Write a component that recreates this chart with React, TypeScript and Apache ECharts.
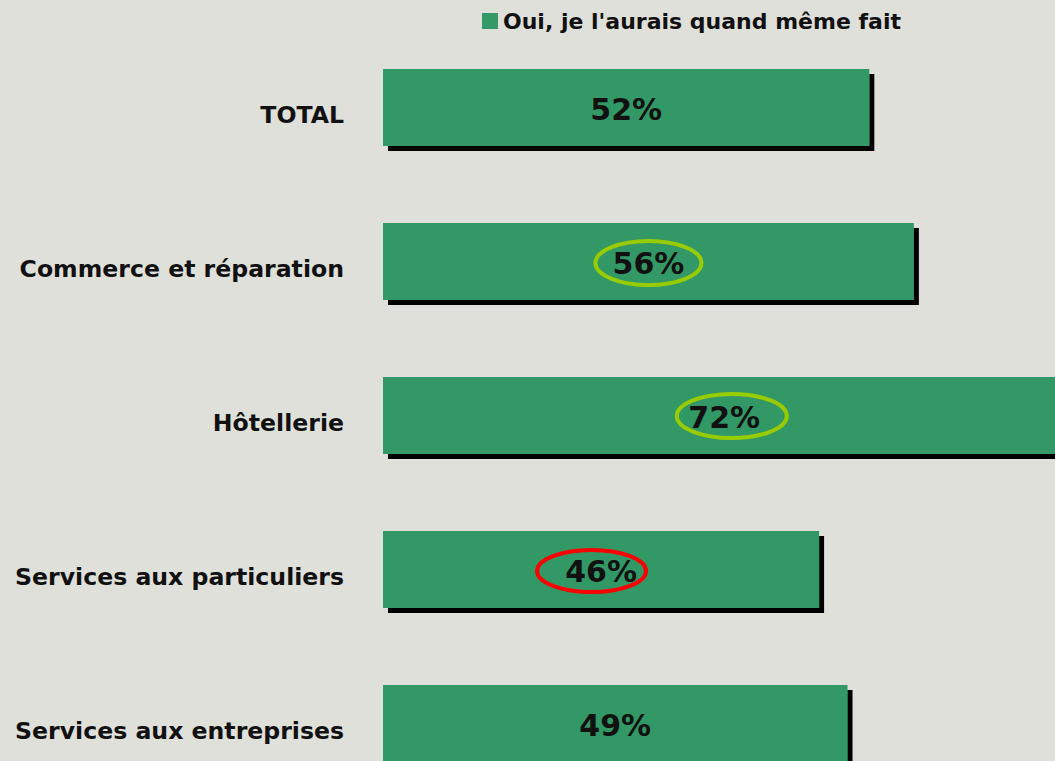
import React, { useEffect, useRef } from "react";
import * as echarts from "echarts";

const categories = [
  "TOTAL",
  "Commerce et réparation",
  "Hôtellerie",
  "Services aux particuliers",
  "Services aux entreprises",
];
const values = [51.3, 56, 72, 46, 49];
const valueLabels = ["52%", "56%", "72%", "46%", "49%"];
const seriesName = "Oui, je l'aurais quand même fait";

// highlighted labels: category index, colour, offset of ring from bar centre
const highlights = [
  { index: 1, color: "#99cc00", dx: 0, dy: 1.5, rx: 53, ry: 22 },
  { index: 2, color: "#99cc00", dx: 7.5, dy: 0.5, rx: 55, ry: 22 },
  { index: 3, color: "#ff0000", dx: -9.5, dy: 1.5, rx: 54.5, ry: 21 },
];

const FONT = "DejaVu Sans";

export default function App() {
  const ref = useRef<HTMLDivElement>(null);

  useEffect(() => {
    document.body.style.margin = "0";
    if (!ref.current) return;
    const chart = echarts.init(ref.current, null, { renderer: "svg" });
    chart.setOption({
      animation: false,
      backgroundColor: "#dfe0da",
      legend: {
        left: 482,
        top: 10,
        padding: 0,
        icon: "rect",
        itemWidth: 16,
        itemHeight: 16,
        textStyle: {
          fontFamily: FONT,
          fontWeight: "bold",
          fontSize: 22,
          color: "#111",
        },
        data: [seriesName],
      },
      grid: {
        left: 383,
        top: 30.5,
        width: 948,
        height: 770,
        outerBoundsMode: "none",
        containLabel: false,
      },
      xAxis: {
        type: "value",
        min: 0,
        max: 100,
        show: false,
      },
      yAxis: {
        type: "category",
        inverse: true,
        data: categories,
        axisLine: { show: false },
        axisTick: { show: false },
        splitLine: { show: false },
        axisLabel: {
          margin: 39,
          fontFamily: FONT,
          fontWeight: "bold",
          fontSize: 23.6,
          color: "#111",
          verticalAlign: "top",
          lineHeight: 14,
        },
      },
      series: [
        {
          name: seriesName,
          type: "bar",
          data: values,
          barWidth: 77,
          itemStyle: {
            color: "#339966",
            shadowColor: "#000",
            shadowOffsetX: 5,
            shadowOffsetY: 5,
            shadowBlur: 0,
          },
          label: {
            show: true,
            position: "inside",
            offset: [0, 2],
            fontFamily: FONT,
            fontWeight: "bold",
            fontSize: 30,
            color: "#111",
            formatter: (p: any) => valueLabels[p.dataIndex],
          },
        },
      ],
    });

    const graphics = highlights.map((h) => {
      const pt = chart.convertToPixel({ gridIndex: 0 }, [
        values[h.index] / 2,
        categories[h.index],
      ]) as number[];
      return {
        type: "ellipse",
        shape: { cx: pt[0] + h.dx, cy: pt[1] + h.dy, rx: h.rx, ry: h.ry },
        style: { fill: "none", stroke: h.color, lineWidth: 4 },
        z: 100,
      };
    });
    chart.setOption({ graphic: graphics });

    return () => chart.dispose();
  }, []);

  return <div ref={ref} style={{ width: 1055, height: 761 }} />;
}
